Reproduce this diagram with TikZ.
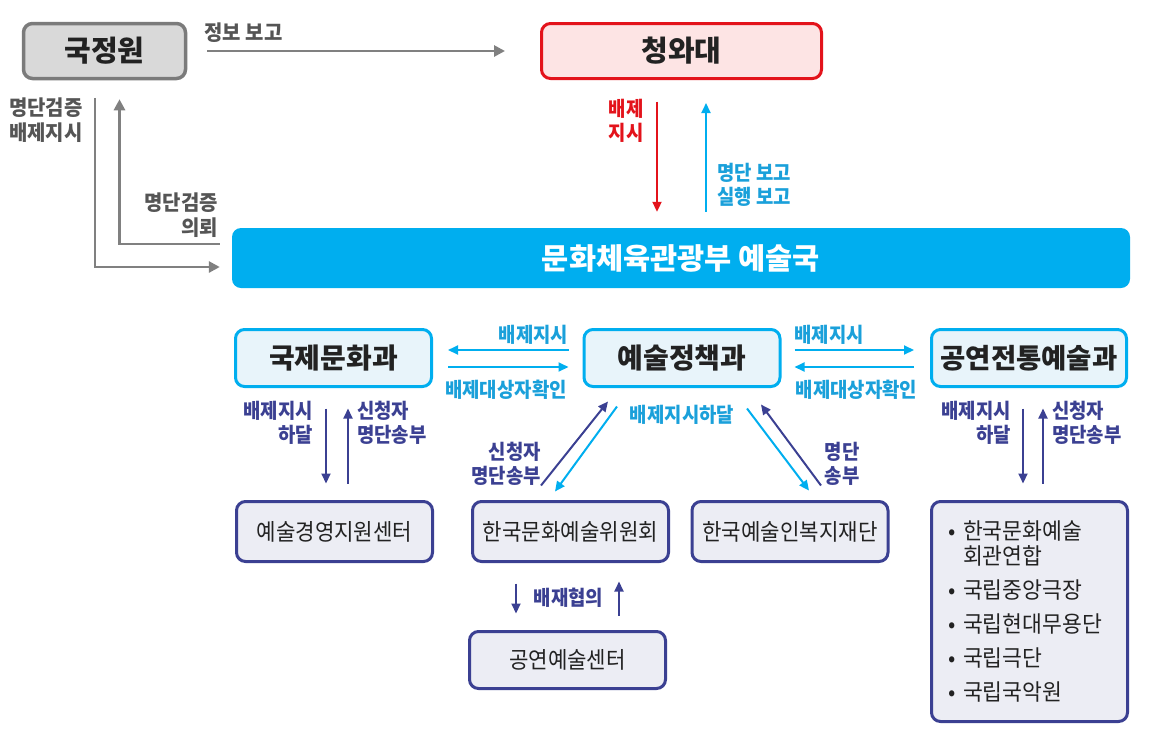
\documentclass[tikz,border=0pt]{standalone}
\usepackage{fontspec}
\setmainfont{Noto Sans CJK KR}
\newfontfamily\condfont{Noto Sans CJK KR}[FakeStretch=0.92]
\newfontfamily\semifont{Noto Sans CJK KR}[FakeStretch=0.95]
\usetikzlibrary{arrows.meta,calc}
\definecolor{nisfill}{HTML}{D9D9D9}
\definecolor{nisline}{HTML}{7B7B7B}
\definecolor{garr}{HTML}{808080}
\definecolor{gtext}{HTML}{555555}
\definecolor{bred}{HTML}{E3131B}
\definecolor{pinkfill}{HTML}{FDE4E4}
\definecolor{cyanm}{HTML}{00AEEF}
\definecolor{cyantext}{HTML}{1AA0DA}
\definecolor{midfill}{HTML}{E8F4FA}
\definecolor{navy}{HTML}{3B4092}
\definecolor{lowfill}{HTML}{ECEDF4}
\definecolor{boxtext}{HTML}{222222}
\begin{document}
\begin{tikzpicture}[x=1pt,y=-1pt,
  box/.style={rectangle,rounded corners=9pt,line width=3pt,inner sep=0pt},
  nisbox/.style={box,draw=nisline,fill=nisfill,line width=3.5pt,minimum width=162pt,minimum height=55pt,text=boxtext,font=\fontsize{29}{34}\selectfont\bfseries},
  bwdbox/.style={box,draw=bred,fill=pinkfill,minimum width=280pt,minimum height=55pt,text=boxtext,font=\fontsize{29}{34}\selectfont\bfseries},
  mainbar/.style={rectangle,rounded corners=9pt,fill=cyanm,minimum width=898pt,minimum height=60pt,text=white,font=\fontsize{29.5}{34}\selectfont\bfseries},
  midbox/.style={box,draw=cyanm,fill=midfill,minimum width=196pt,minimum height=57pt,text=boxtext,font=\fontsize{28}{32}\selectfont\bfseries},
  lowbox/.style={box,draw=navy,fill=lowfill,minimum width=196pt,minimum height=60pt,text=boxtext,font=\condfont\fontsize{23}{26}\selectfont},
  lbl/.style={inner sep=0pt,font=\condfont\fontsize{20.5}{24}\selectfont\bfseries},
  glbl/.style={inner sep=0pt,text=gtext,font=\semifont\fontsize{21}{25}\selectfont\bfseries},
  clbl/.style={lbl,text=cyantext},
  nlbl/.style={lbl,text=navy},
  tip/.style={-{Triangle[length=10pt,width=9pt]}},
  garrow/.style={-{Triangle[length=11pt,width=11pt]},draw=garr,line width=2.8pt},
  rarrow/.style={tip,draw=bred,line width=2pt},
  carrow/.style={tip,draw=cyanm,line width=2pt},
  narrow/.style={tip,draw=navy,line width=2pt}
]
\useasboundingbox (0,0) rectangle (1156,737);

% boxes
\node[nisbox] (nis) at (104.5,51) {국정원};
\node[bwdbox] (bwd) at (681.5,51) {청와대};
\node[mainbar] (main) at (681,258) {문화체육관광부 예술국};
\node[midbox] (intl) at (333.5,358) {국제문화과};
\node[midbox] (policy) at (682,358) {예술정책과};
\node[midbox,minimum width=195pt,font=\fontsize{27.5}{32}\selectfont\bfseries] (perf) at (1029,358) {공연전통예술과};
\node[lowbox] (mgmt) at (334.5,531.5) {예술경영지원센터};
\node[lowbox] (council) at (570.5,531.5) {한국문화예술위원회};
\node[lowbox] (welfare) at (790,531.5) {한국예술인복지재단};
\node[lowbox,minimum height=57pt] (pac) at (567.5,660) {공연예술센터};
\node[lowbox,minimum height=220pt,text width=163pt,inner xsep=16.5pt,align=left,font=\semifont\fontsize{22.7}{25}\selectfont] (list) at (1029.5,611.5)
 {\makebox[15pt][l]{•}한국문화예술\\\hspace*{15pt}회관연합\\[9pt]\makebox[15pt][l]{•}국립중앙극장\\[9pt]\makebox[15pt][l]{•}국립현대무용단\\[9pt]\makebox[15pt][l]{•}국립극단\\[9pt]\makebox[15pt][l]{•}국립국악원};

% top connectors
\draw[garrow] ($(nis.east)+(20,0)$) -- ($(bwd.west)+(-35,0)$);
\node[glbl,anchor=west] (l1) at (204,33) {정보\hspace{5pt}보고};
\draw[garrow] ($(nis.south)+(-9.5,17.5)$) |- ($(main.west)+(-12,9)$);
\draw[garrow] ($(main.west)+(-12,-14)$) -| ($(nis.south)+(15,19)$);
\node[glbl,align=center] (l2) at (46,120.5) {명단검증\\배제지시};
\node[glbl,align=right,anchor=east] (l3) at (218,215.5) {명단검증\\의뢰};
\draw[rarrow] ($(bwd.south)+(-24.5,21.5)$) -- ($(main.north)+(-24,-16)$);
\draw[carrow] ($(main.north)+(25,-16)$) -- ($(bwd.south)+(24.5,23)$);
\node[lbl,text=bred,align=center] (l4) at (626,120.5) {배제\\지시};
\node[clbl,align=left,anchor=west] (l5) at (717,185) {명단 보고\\실행 보고};

% middle row connectors
\draw[carrow] ($(policy.west)+(-14,-8)$) -- ($(intl.east)+(15,-8)$);
\draw[carrow] ($(intl.east)+(15,9)$) -- ($(policy.west)+(-14,9)$);
\node[clbl] (l6) at (533.5,335) {배제지시};
\node[clbl] (l7) at (506,390) {배제대상자확인};
\draw[carrow] ($(policy.east)+(13,-8)$) -- ($(perf.west)+(-16,-8)$);
\draw[carrow] ($(perf.west)+(-16,9)$) -- ($(policy.east)+(13,9)$);
\node[clbl] (l8) at (829,335) {배제지시};
\node[clbl] (l9) at (856.5,390) {배제대상자확인};

% intl <-> mgmt
\draw[narrow] ($(intl.south)+(-7.5,20.5)$) -- ($(mgmt.north)+(-8.5,-16.5)$);
\draw[narrow] ($(mgmt.north)+(13.5,-16.5)$) -- ($(intl.south)+(14.5,20.5)$);
\node[nlbl,align=right,anchor=east] (l10) at (313,422.5) {배제지시\\하달};
\node[nlbl,align=left,anchor=west] (l11) at (357,422.5) {신청자\\명단송부};

% perf <-> list
\draw[narrow] ($(perf.south)+(-6,20.5)$) -- ($(list.north)+(-6.5,-16.5)$);
\draw[narrow] ($(list.north)+(13.5,-16.5)$) -- ($(perf.south)+(14,20.5)$);
\node[nlbl,align=right,anchor=east] (l12) at (1011,422.5) {배제지시\\하달};
\node[nlbl,align=left,anchor=west] (l13) at (1052,422.5) {신청자\\명단송부};

% diagonals
\draw[narrow] ($(council.north)+(-29.5,-14.5)$) -- ($(policy.south)+(-74,13.5)$);
\draw[carrow] ($(policy.south)+(-65,18.5)$) -- ($(council.north)+(-15.5,-8.5)$);
\draw[carrow] ($(policy.south)+(65,20.5)$) -- ($(welfare.north)+(19,-9.5)$);
\draw[narrow] ($(welfare.north)+(31,-14.5)$) -- ($(policy.south)+(79,16.5)$);
\node[nlbl,align=right,anchor=east] (l14) at (541,464) {신청자\\명단송부};
\node[clbl] (l15) at (682,415) {배제지시하달};
\node[nlbl,align=center] (l16) at (842,464) {명단\\송부};

% council <-> pac
\draw[narrow] ($(council.south)+(-54.5,20.5)$) -- ($(pac.north)+(-51.5,-16.5)$);
\draw[narrow] ($(pac.north)+(51.5,-14.5)$) -- ($(council.south)+(48.5,18.5)$);
\node[nlbl] (l17) at (568.5,598) {배재협의};
\end{tikzpicture}
\end{document}
